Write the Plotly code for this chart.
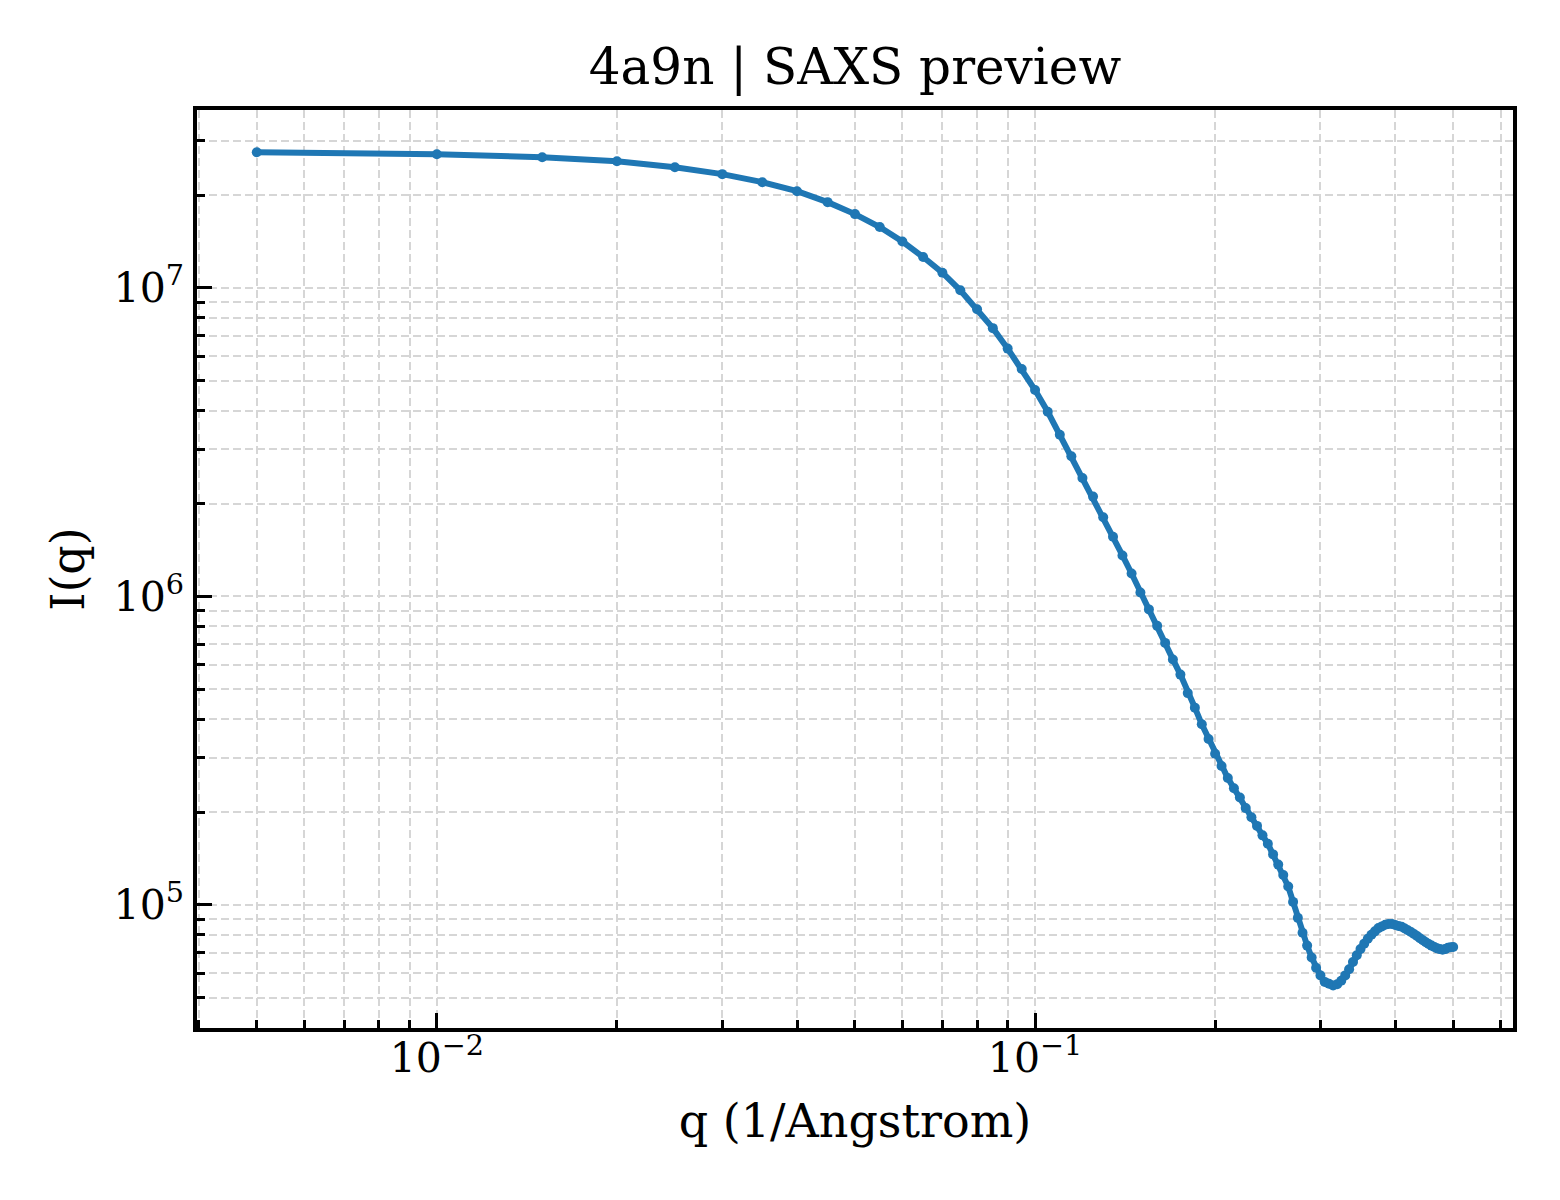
import plotly.graph_objects as go

# scattering vector (1/Angstrom), 0.005 .. 0.5 in steps of 0.005
q = [round(0.005 * k, 3) for k in range(1, 101)]

# intensity
intensity = [
    2.755e7, 2.715e7, 2.654e7, 2.576e7, 2.464e7, 2.339e7, 2.203e7, 2.060e7, 1.898e7, 1.736e7,
    1.576e7, 1.414e7, 1.260e7, 1.121e7, 9.83e6, 8.53e6, 7.41e6, 6.36e6, 5.46e6, 4.67e6,
    3.97e6, 3.344e6, 2.849e6, 2.422e6, 2.107e6, 1.806e6, 1.561e6, 1.358e6, 1.187e6, 1.030e6,
    9.08e5, 8.03e5, 7.07e5, 6.25e5, 5.58e5, 4.86e5, 4.36e5, 3.85e5, 3.45e5, 3.09e5,
    2.82e5, 2.58e5, 2.39e5, 2.23e5, 2.06e5, 1.925e5, 1.804e5, 1.681e5, 1.578e5, 1.458e5,
    1.351e5, 1.250e5, 1.147e5, 1.023e5, 9.08e4, 8.12e4, 7.38e4, 6.75e4, 6.26e4, 5.91e4,
    5.63e4, 5.55e4, 5.48e4, 5.53e4, 5.68e4, 5.91e4, 6.19e4, 6.53e4, 6.87e4, 7.20e4,
    7.49e4, 7.77e4, 8.00e4, 8.21e4, 8.41e4, 8.52e4, 8.62e4, 8.67e4, 8.67e4, 8.61e4,
    8.55e4, 8.50e4, 8.39e4, 8.28e4, 8.17e4, 8.05e4, 7.93e4, 7.80e4, 7.68e4, 7.57e4,
    7.47e4, 7.38e4, 7.30e4, 7.23e4, 7.19e4, 7.16e4, 7.19e4, 7.26e4, 7.29e4, 7.30e4,
]

x_major = [0.01, 0.1]
x_major_text = ["10<sup>\u22122</sup>", "10<sup>\u22121</sup>"]
y_major = [1e5, 1e6, 1e7]
y_major_text = ["10<sup>5</sup>", "10<sup>6</sup>", "10<sup>7</sup>"]

x_minor = [m * d for d in (0.001, 0.01, 0.1) for m in range(2, 10)]
y_minor = [m * d for d in (1e4, 1e5, 1e6, 1e7) for m in range(2, 10)]

FONT = "DejaVu Serif"
GRID = "#d6d6d6"
DASH = "8px,4px"

fig = go.Figure()
fig.add_trace(go.Scatter(
    x=q,
    y=intensity,
    mode="lines+markers",
    line=dict(color="#1f77b4", width=6),
    marker=dict(color="#1f77b4", size=10),
    showlegend=False,
))

axis_common = dict(
    type="log",
    showline=True,
    linecolor="black",
    linewidth=3.5,
    mirror=True,
    ticks="inside",
    ticklen=15,
    tickwidth=3,
    tickcolor="black",
    showgrid=True,
    gridcolor=GRID,
    gridwidth=1.8,
    griddash=DASH,
    zeroline=False,
    tickfont=dict(family=FONT, size=41, color="black"),
    automargin=False,
    tickmode="array",
)

minor_common = dict(ticks="inside", ticklen=8, tickwidth=2.5, tickcolor="black",
                    showgrid=True, gridcolor=GRID, gridwidth=1.8, griddash=DASH)

fig.update_xaxes(
    **axis_common,
    range=[-2.401, -0.201],
    tickvals=x_major,
    ticktext=x_major_text,
    ticklabelstandoff=-9,
    minor=dict(tickvals=x_minor, **minor_common),
    title=dict(text="q (1/Angstrom)", font=dict(family=FONT, size=46, color="black"), standoff=25),
)
fig.update_yaxes(
    **axis_common,
    range=[4.601, 7.577],
    tickvals=y_major,
    ticktext=y_major_text,
    ticklabelstandoff=1,
    minor=dict(tickvals=y_minor, **minor_common),
    title=dict(text="I(q)", font=dict(family=FONT, size=46, color="black"), standoff=16),
)

# the page body adds an 8px offset, so the margins are shifted to keep the frame in place
fig.update_layout(
    width=1560,
    height=1200,
    margin=dict(l=189, r=55, t=102, b=180),
    paper_bgcolor="white",
    plot_bgcolor="white",
    title=dict(
        text="4a9n | SAXS preview",
        font=dict(family=FONT, size=50, color="black"),
        x=0.5, xref="paper", xanchor="center",
        y=1 - 58 / 1200, yref="container", yanchor="middle",
    ),
)

fig.write_html("out.html")
